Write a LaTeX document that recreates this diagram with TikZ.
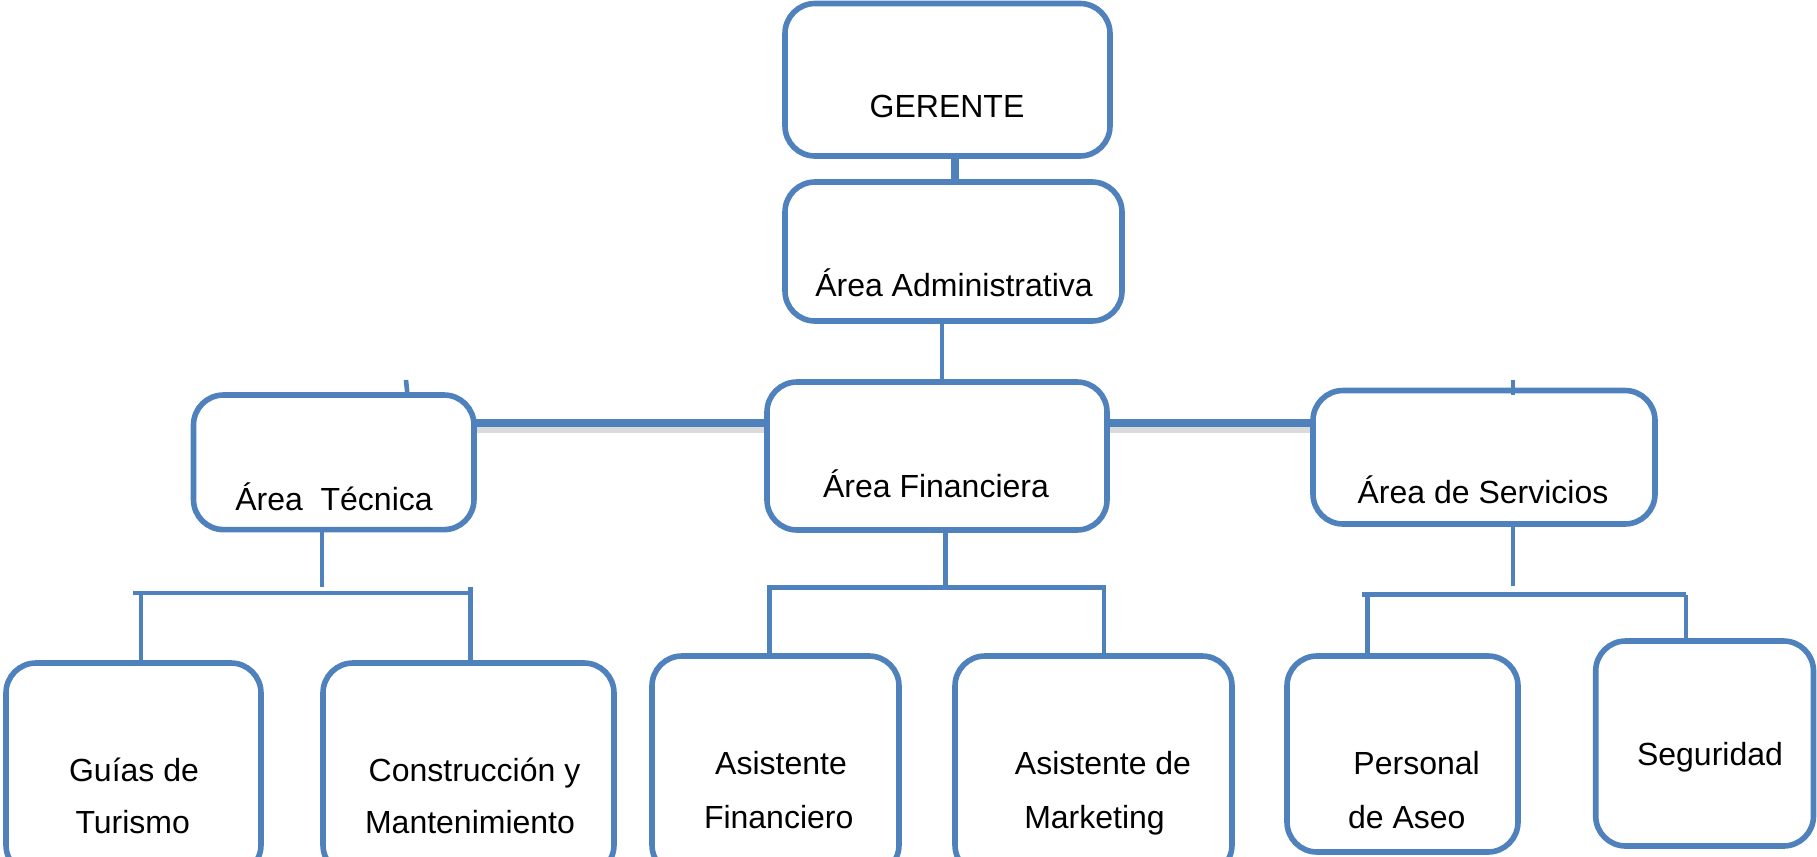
\documentclass[tikz,border=0pt]{standalone}
\usepackage{fontspec}
\setmainfont{Liberation Sans}
\definecolor{ob}{RGB}{79,129,189}
\begin{document}
\begin{tikzpicture}[x=0.5pt,y=-0.5pt,
  box/.style={draw=ob,line width=2.8pt,rounded corners=15pt,fill=white,inner sep=0pt,outer sep=0pt},
  lbl/.style={font=\fontsize{16}{19}\selectfont,inner sep=0pt,anchor=base},
  conn/.style={draw=ob,line width=2.3pt},
  thickconn/.style={draw=ob,line width=4.2pt},
  shadeline/.style={draw=black!40,line width=4pt,opacity=.35}]
\useasboundingbox (0,0) rectangle (1817,857);
\clip (0,0) rectangle (1817,857);

% helper coordinates
\coordinate (xGA) at (955,0);
\coordinate (xAF) at (942,0);
\coordinate (yH) at (0,423);
\coordinate (tst) at (322,587);
\coordinate (tbl) at (133,593);
\coordinate (tbr) at (472,593);
\coordinate (tdl) at (141,593);
\coordinate (tdr) at (470.5,587);
\coordinate (fst) at (945.6,587.5);
\coordinate (fbl) at (769.5,587.5);
\coordinate (fbr) at (1104,587.5);
\coordinate (sst) at (1513,586);
\coordinate (sbl) at (1361.6,594.5);
\coordinate (sbr) at (1686,594.5);
\coordinate (sdl) at (1367.4,594.5);
\coordinate (k1a) at (406,380);
\coordinate (k2a) at (1513,380);

% soft shadows under the thick connectors
\draw[shadeline] (474,429) -- (767,429);
\draw[shadeline] (1107,429) -- (1313,429);

% boxes
\node[box,minimum width=162.5pt,minimum height=76.25pt] (ger) at (947.5,79.75) {};
\node[box,minimum width=168.5pt,minimum height=69.5pt] (adm) at (953.5,251.5) {};
\node[box,minimum width=170pt,minimum height=74pt] (fin) at (937,456) {};
\node[box,minimum width=140.25pt,minimum height=67.3pt] (tec) at (333.75,462.3) {};
\node[box,minimum width=171pt,minimum height=66.75pt] (ser) at (1484,457.25) {};
\node[box,minimum width=127.5pt,minimum height=106pt] (gui) at (133.5,769) {};
\node[box,minimum width=145.5pt,minimum height=106pt] (con) at (468.5,769) {};
\node[box,minimum width=123.5pt,minimum height=109.5pt] (asf) at (775.5,765.5) {};
\node[box,minimum width=138.5pt,minimum height=109.5pt] (asm) at (1093.5,765.5) {};
\node[box,minimum width=115.5pt,minimum height=98pt] (per) at (1402.5,754) {};
\node[box,minimum width=108.9pt,minimum height=102.5pt] (seg) at (1704.6,743.5) {};

% labels
\node[lbl] (tger) at (947,117.6) {GERENTE};
\node[lbl] (tadm) at (954,296) {Área Administrativa};
\node[lbl] (tfin) at (936,497.7) {Área Financiera};
\node[lbl] (ttec) at (334,510.4) {Área\ \ Técnica};
\node[lbl] (tser) at (1483,503.5) {Área de Servicios};
\node[lbl] (tgui1) at (134,781.6) {Guías de};
\node[lbl] (tgui2) at (132.7,833.7) {Turismo};
\node[lbl] (tcon1) at (474.5,781.6) {Construcción y};
\node[lbl] (tcon2) at (470,833.7) {Mantenimiento};
\node[lbl] (tasf1) at (781,774.6) {Asistente};
\node[lbl] (tasf2) at (778.7,828) {Financiero};
\node[lbl] (tasm1) at (1103,774.6) {Asistente de};
\node[lbl] (tasm2) at (1094.5,828) {Marketing};
\node[lbl] (tper1) at (1416.6,774.6) {Personal};
\node[lbl] (tper2) at (1406.8,828) {de Aseo};
\node[lbl] (tseg) at (1710,765.4) {Seguridad};

% connectors
\draw[thickconn] (ger.south -| xGA) -- (adm.north -| xGA);
\draw[conn] (adm.south -| xAF) -- (fin.north -| xAF);
\draw[thickconn] (tec.east |- yH) -- (fin.west |- yH);
\draw[thickconn] (fin.east |- yH) -- (ser.west |- yH);

\draw[conn] (tec.south -| tst) -- (tst);
\draw[conn] (tbl) -- (tbr);
\draw[conn] (tdl) -- (gui.north -| tdl);
\draw[conn] (tdr) -- (con.north -| tdr);

\draw[conn] (fin.south -| fst) -- (fst);
\draw[conn] (asf.north -| fbl) -- (fbl) -- (fbr) -- (asm.north -| fbr);

\draw[conn] (ser.south -| sst) -- (sst);
\draw[conn] (sbl) -- (sbr);
\draw[conn] (sdl) -- (per.north -| sdl);
\draw[conn] (sbr) -- (seg.north -| sbr);

% small stray ticks
\draw[conn] (k1a) -- (tec.north -| 407.5,0);
\draw[conn] (k2a) -- ([yshift=-2pt]ser.north -| k2a);
\end{tikzpicture}
\end{document}
